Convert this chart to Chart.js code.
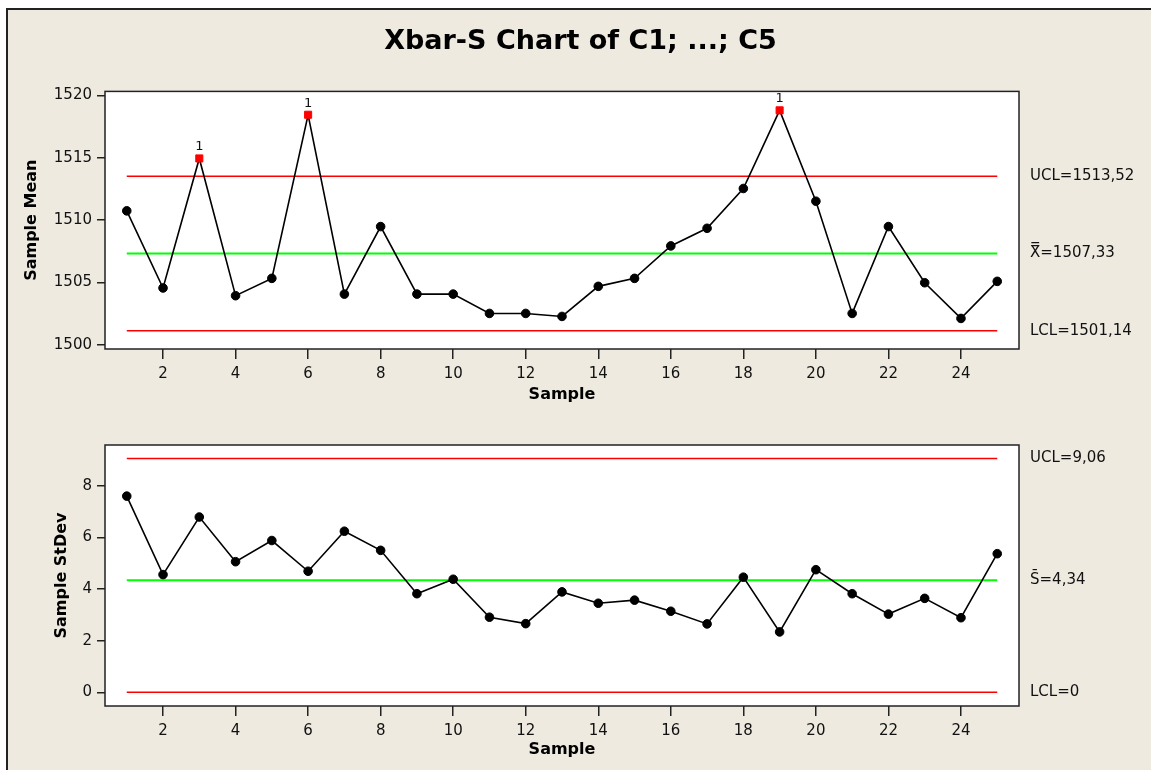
<!DOCTYPE html>
<html>
<head>
<meta charset="utf-8">
<script src="https://cdn.jsdelivr.net/npm/chart.js@4"></script>
<style>
    html, body { margin: 0; padding: 0; background: #ffffff; }
    #frame {
        position: absolute; left: 6px; top: 8px; width: 1151px; height: 770px;
        background: #eeeae0; border-left: 2px solid #222; border-top: 2px solid #222;
    }
    canvas { position: absolute; left: 0; }
    #meanChart { top: 0; }
    #stdevChart { top: 410px; }
</style>
</head>
<body>
<div id="frame"></div>
<canvas id="meanChart" width="1151" height="410"></canvas>
<canvas id="stdevChart" width="1151" height="360"></canvas>
<script>
/*** Data ***/
const samples = [1, 2, 3, 4, 5, 6, 7, 8, 9, 10, 11, 12, 13, 14, 15, 16, 17, 18, 19, 20, 21, 22, 23, 24, 25];
const meanValues = [1510.75, 1504.57, 1514.95, 1503.95, 1505.34, 1518.45, 1504.08, 1509.49, 1504.08, 1504.08,
    1502.53, 1502.53, 1502.29, 1504.70, 1505.34, 1507.94, 1509.35, 1512.54, 1518.8, 1511.52,
    1502.53, 1509.49, 1504.99, 1502.13, 1505.10];
const stdevValues = [7.60, 4.56, 6.79, 5.06, 5.88, 4.69, 6.24, 5.50, 3.82, 4.38,
    2.91, 2.66, 3.89, 3.45, 3.57, 3.14, 2.65, 4.46, 2.34, 4.75,
    3.82, 3.03, 3.64, 2.89, 5.37];

const meanLimits = [1513.52, 1507.33, 1501.14];   // UCL, centre, LCL
const meanLimitLabels = ['UCL=1513,52', 'X\u033F=1507,33', 'LCL=1501,14'];
const stdevLimits = [9.06, 4.34, 0];
const stdevLimitLabels = ['UCL=9,06', 'S\u0304=4,34', 'LCL=0'];

const meanTicks = [1500, 1505, 1510, 1515, 1520];
const stdevTicks = [0, 2, 4, 6, 8];
const sampleTicks = [2, 4, 6, 8, 10, 12, 14, 16, 18, 20, 22, 24];

/*** Font ***/
Chart.defaults.font.family = "'DejaVu Sans', sans-serif";
Chart.defaults.color = '#111';

/*** Plugins ***/
const plotBox = {
    id: 'plotBox',
    beforeDraw(chart) {
        const a = chart.chartArea, ctx = chart.ctx;
        ctx.save();
        ctx.fillStyle = '#ffffff';
        ctx.fillRect(a.left, a.top, a.right - a.left, a.bottom - a.top);
        ctx.restore();
    },
    afterDraw(chart) {
        const a = chart.chartArea, ctx = chart.ctx;
        ctx.save();
        ctx.strokeStyle = '#222';
        ctx.lineWidth = 1.5;
        ctx.strokeRect(a.left, a.top, a.right - a.left, a.bottom - a.top);
        ctx.restore();
    }
};

const ruleMarks = {
    id: 'ruleMarks',
    afterDatasetsDraw(chart) {
        const ucl = chart.options.plugins.ruleMarks.ucl;
        const meta = chart.getDatasetMeta(0);
        const ctx = chart.ctx;
        ctx.save();
        ctx.font = "13px 'DejaVu Sans'";
        ctx.fillStyle = '#111';
        ctx.textAlign = 'center';
        ctx.textBaseline = 'bottom';
        meta.data.forEach(function (pt, i) {
            if (chart.data.datasets[0].data[i].y > ucl) {
                ctx.fillText('1', pt.x, pt.y - 5);
            }
        });
        ctx.restore();
    }
};

/*** Draw chart functions ***/
function limitLine(value, color, width) {
    return {
        data: [{x: samples[0], y: value}, {x: samples[samples.length - 1], y: value}],
        borderColor: color,
        borderWidth: width,
        pointRadius: 0,
        order: 2
    };
}

function drawControlChart(canvasId, values, limits, limitLabels, yTicks, yMin, yMax, opts) {
    const ucl = limits[0];
    return new Chart(document.getElementById(canvasId), {
        type: 'line',
        data: {
            datasets: [
                {
                    data: samples.map((s, i) => ({x: s, y: values[i]})),
                    borderColor: '#000',
                    borderWidth: 1.6,
                    pointStyle: ctx => ctx.raw.y > ucl ? 'rect' : 'circle',
                    pointRadius: ctx => ctx.raw.y > ucl ? 5 : 4.3,
                    pointBackgroundColor: ctx => ctx.raw.y > ucl ? '#ff0000' : '#000',
                    pointBorderColor: ctx => ctx.raw.y > ucl ? '#ff0000' : '#000',
                    pointBorderWidth: 1,
                    order: 1
                },
                limitLine(limits[0], '#ff0000', 1.5),
                limitLine(limits[1], '#00ff00', 2),
                limitLine(limits[2], '#ff0000', 1.5)
            ]
        },
        options: {
            responsive: false,
            animation: false,
            layout: {
                padding: {left: 10, top: opts.padTop, right: 0, bottom: 0}
            },
            plugins: {
                legend: {display: false},
                tooltip: {enabled: false},
                title: opts.title ? {
                    display: true,
                    text: opts.title,
                    color: '#000',
                    font: {size: 27, weight: 'bold'},
                    padding: {top: 26, bottom: 33}
                } : {display: false},
                ruleMarks: {ucl: ucl}
            },
            scales: {
                x: {
                    type: 'linear',
                    min: 0.4,
                    max: 25.6,
                    afterBuildTicks: s => { s.ticks = sampleTicks.map(v => ({value: v})); },
                    afterFit: s => { s.height = opts.xHeight; },
                    border: {display: false},
                    grid: {drawOnChartArea: false, drawTicks: true, tickLength: 10, color: '#222', lineWidth: 1.5},
                    ticks: {font: {size: 15}, padding: 6, maxRotation: 0, autoSkip: false, callback: v => String(v)},
                    title: {
                        display: true, text: 'Sample', color: '#000',
                        font: {size: 16, weight: 'bold'},
                        padding: {top: 0, bottom: opts.xTitlePad}
                    }
                },
                y: {
                    type: 'linear',
                    position: 'left',
                    min: yMin,
                    max: yMax,
                    afterBuildTicks: s => { s.ticks = yTicks.map(v => ({value: v})); },
                    afterFit: s => { s.width = 95; },
                    border: {display: false},
                    grid: {drawOnChartArea: false, drawTicks: true, tickLength: 8, color: '#222', lineWidth: 1.5},
                    ticks: {font: {size: 15}, padding: 5, autoSkip: false, callback: v => String(v)},
                    title: {
                        display: true, text: opts.yTitle, color: '#000',
                        font: {size: 16, weight: 'bold'},
                        padding: {top: opts.yTitlePad, bottom: 0}
                    }
                },
                y2: {
                    type: 'linear',
                    position: 'right',
                    min: yMin,
                    max: yMax,
                    afterBuildTicks: s => { s.ticks = limits.map(v => ({value: v})); },
                    afterFit: s => { s.width = 132; },
                    border: {display: false},
                    grid: {display: false, drawTicks: false},
                    ticks: {
                        font: {size: 15},
                        padding: 11,
                        autoSkip: false,
                        callback: v => limitLabels[limits.indexOf(v)]
                    }
                }
            }
        },
        plugins: [plotBox, ruleMarks]
    });
}

var meanChart = drawControlChart('meanChart', meanValues, meanLimits, meanLimitLabels, meanTicks, 1499.68, 1520.32,
    {title: 'Xbar-S Chart of C1; ...; C5', padTop: 0, xHeight: 61, xTitlePad: 6, yTitle: 'Sample Mean', yTitlePad: 12});
var stdevChart = drawControlChart('stdevChart', stdevValues, stdevLimits, stdevLimitLabels, stdevTicks, -0.53, 9.58,
    {title: null, padTop: 35, xHeight: 64, xTitlePad: 11, yTitle: 'Sample StDev', yTitlePad: 42});
</script>
</body>
</html>
